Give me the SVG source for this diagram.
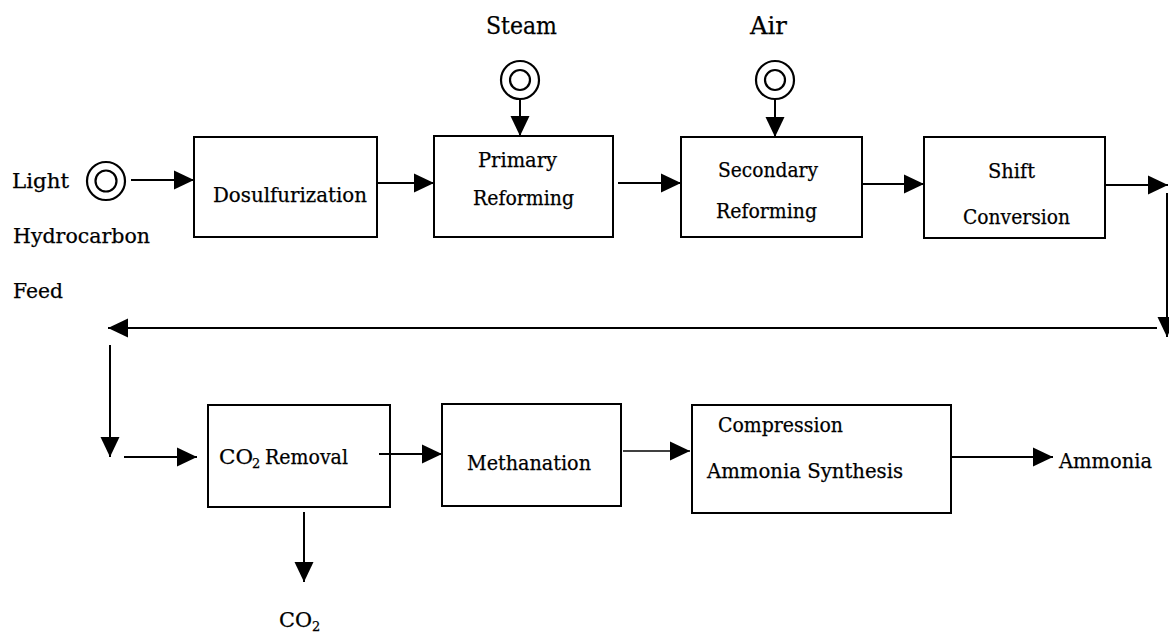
<svg xmlns="http://www.w3.org/2000/svg" width="1169" height="632" viewBox="0 0 1169 632">
<style>
.box{fill:#fff;stroke:#000;stroke-width:2}
.ring{fill:none;stroke:#000;stroke-width:2.2}
.c{stroke:#000;stroke-width:2;fill:none;marker-end:url(#ah)}
.thin{stroke-width:1.3}
text{font-family:"DejaVu Serif","Liberation Serif",serif;font-size:20px;fill:#000;stroke:#000;stroke-width:0.25}
.big{font-size:24px}
.sub{font-size:13px}
</style>
<defs>
<marker id="ah" markerUnits="userSpaceOnUse" markerWidth="20" markerHeight="20" refX="20" refY="10" orient="auto">
<path d="M0,0.5 L20,10 L0,19.5 Z" fill="#000"/>
</marker>
</defs>
<rect width="1169" height="632" fill="#fff"/>

<g id="feed">
<circle class="ring" cx="106" cy="181" r="19"/>
<circle class="ring" cx="106" cy="181" r="10.5"/>
<text x="12" y="188" textLength="57" lengthAdjust="spacingAndGlyphs">Light</text>
<text x="13" y="243" textLength="137" lengthAdjust="spacingAndGlyphs">Hydrocarbon</text>
<text x="13" y="298" textLength="50" lengthAdjust="spacingAndGlyphs">Feed</text>
</g>

<g id="steam">
<circle class="ring" cx="520" cy="80" r="19"/>
<circle class="ring" cx="520" cy="80" r="10"/>
<text class="big" x="486" y="34" textLength="71" lengthAdjust="spacingAndGlyphs">Steam</text>
</g>

<g id="air">
<circle class="ring" cx="775" cy="80" r="19"/>
<circle class="ring" cx="775" cy="80" r="10"/>
<text class="big" x="750" y="34" textLength="37" lengthAdjust="spacingAndGlyphs">Air</text>
</g>

<g id="desulfurization">
<rect class="box" x="194" y="137" width="183" height="100"/>
<text x="213" y="202" textLength="154" lengthAdjust="spacingAndGlyphs">Dosulfurization</text>
</g>

<g id="primary">
<rect class="box" x="434" y="136" width="179" height="101"/>
<text x="478" y="167" textLength="79" lengthAdjust="spacingAndGlyphs">Primary</text>
<text x="473" y="205" textLength="101" lengthAdjust="spacingAndGlyphs">Reforming</text>
</g>

<g id="secondary">
<rect class="box" x="681" y="137" width="181" height="100"/>
<text x="718" y="177" textLength="100" lengthAdjust="spacingAndGlyphs">Secondary</text>
<text x="716" y="218" textLength="101" lengthAdjust="spacingAndGlyphs">Reforming</text>
</g>

<g id="shift">
<rect class="box" x="924" y="137" width="181" height="101"/>
<text x="988" y="178" textLength="47" lengthAdjust="spacingAndGlyphs">Shift</text>
<text x="963" y="224" textLength="107" lengthAdjust="spacingAndGlyphs">Conversion</text>
</g>

<g id="co2removal">
<rect class="box" x="208" y="405" width="182" height="102"/>
<text x="219" y="464" textLength="34" lengthAdjust="spacingAndGlyphs">CO</text>
<text class="sub" x="252" y="468">2</text>
<text x="265" y="464" textLength="83" lengthAdjust="spacingAndGlyphs">Removal</text>
</g>

<g id="methanation">
<rect class="box" x="442" y="404" width="179" height="102"/>
<text x="467" y="470" textLength="124" lengthAdjust="spacingAndGlyphs">Methanation</text>
</g>

<g id="synthesis">
<rect class="box" x="692" y="405" width="259" height="108"/>
<text x="718" y="432" textLength="125" lengthAdjust="spacingAndGlyphs">Compression</text>
<text x="707" y="478" textLength="196" lengthAdjust="spacingAndGlyphs">Ammonia Synthesis</text>
</g>

<g id="co2out">
<text x="279" y="627" textLength="33" lengthAdjust="spacingAndGlyphs">CO</text>
<text class="sub" x="312" y="631">2</text>
</g>

<g id="ammonia">
<text x="1059" y="468" textLength="93" lengthAdjust="spacingAndGlyphs">Ammonia</text>
</g>

<g id="connectors">
<line class="c" x1="131" y1="180" x2="194" y2="180"/>
<line class="c" x1="520" y1="99" x2="520" y2="136"/>
<line class="c" x1="775" y1="99" x2="775" y2="137"/>
<line class="c" x1="377" y1="183" x2="434" y2="183"/>
<line class="c" x1="618" y1="183" x2="681" y2="183"/>
<line class="c" x1="862" y1="184" x2="924" y2="184"/>
<line class="c" x1="1106" y1="185" x2="1168" y2="185"/>
<line class="c" x1="1167" y1="193" x2="1167" y2="337"/>
<line class="c" x1="1157" y1="328" x2="108" y2="328"/>
<line class="c" x1="110" y1="345" x2="110" y2="457"/>
<line class="c" x1="124" y1="457" x2="197" y2="457"/>
<line class="c" x1="379" y1="454" x2="442" y2="454"/>
<line class="c" x1="304" y1="512" x2="304" y2="582"/>
<line class="c thin" x1="623" y1="451" x2="690" y2="451"/>
<line class="c" x1="951" y1="457" x2="1053" y2="457"/>
</g>
</svg>
